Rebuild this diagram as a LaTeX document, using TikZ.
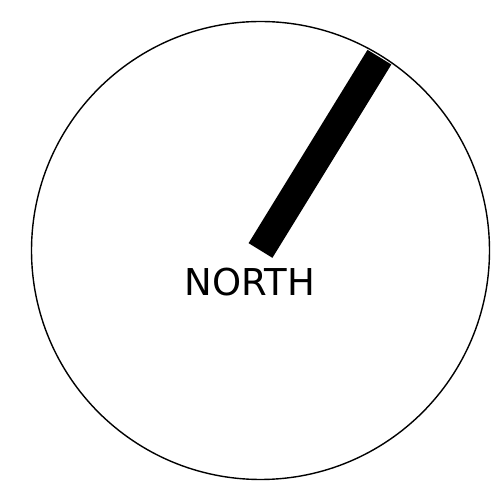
\documentclass[tikz,border=0pt]{standalone}
\usepackage{fontspec}
\setmainfont{DejaVu Sans}
\usetikzlibrary{calc}
\begin{document}
\begin{tikzpicture}[x=1pt,y=1pt,
  dial/.style={draw=black,line width=1.4pt,fill=none},
  needle/.style={line width=28pt,line cap=butt,draw=black},
  label/.style={font=\fontsize{37}{40}\selectfont,inner sep=0pt,anchor=base}]
\useasboundingbox (0,0) rectangle (491,-486);
\coordinate (c) at (260.5,-250.5);
\draw[dial] (c) circle[radius=229];
\coordinate (tip) at ($(c)+(58.4:227)$);
\draw[needle] (c) -- (tip);
\node[label] (north) at (250,-295.5) {NORTH};
\end{tikzpicture}
\end{document}
